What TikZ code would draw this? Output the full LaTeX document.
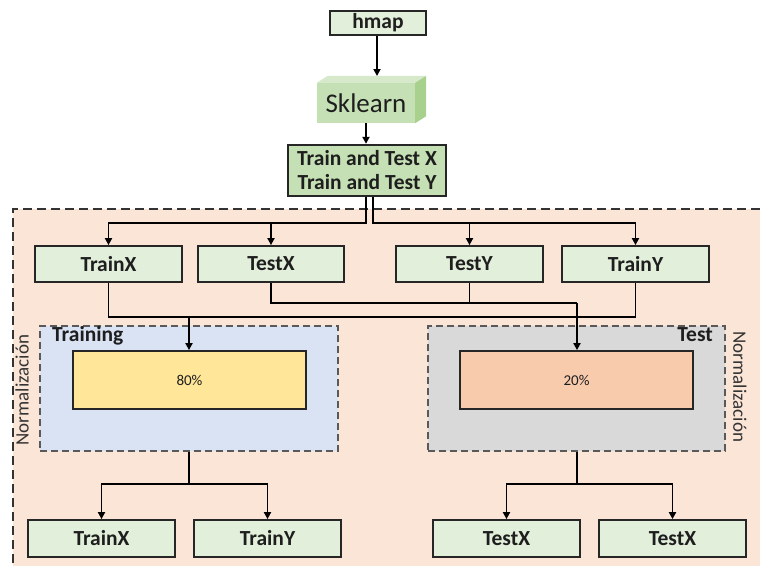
\documentclass[tikz,border=0pt]{standalone}
\usepackage{fontspec}
\setmainfont{Carlito}
\usetikzlibrary{arrows.meta,calc}

\definecolor{boxgreen}{HTML}{E2EFDA}
\definecolor{midgreen}{HTML}{C5E0B4}
\definecolor{topgreen}{HTML}{D6E9CA}
\definecolor{sidegreen}{HTML}{A9D18E}
\definecolor{peach}{HTML}{FBE5D6}
\definecolor{paleblue}{HTML}{DAE3F3}
\definecolor{palegray}{HTML}{D9D9D9}
\definecolor{gold}{HTML}{FFE699}
\definecolor{salmon}{HTML}{F8CBAD}
\definecolor{ink}{HTML}{1E1E1E}
\definecolor{edge}{HTML}{262626}

\tikzset{
  x=1pt, y=-1pt,
  lbl/.style={font=\fontsize{21.5}{26}\selectfont\bfseries, text=ink},
  databox/.style={draw=edge, line width=1.8pt, fill=boxgreen, inner sep=0pt, lbl},
  splitbox/.style={draw=edge, line width=1.8pt, inner sep=0pt,
    font=\fontsize{15}{18}\selectfont, text=ink},
  groupbox/.style={draw=black!65, line width=1.3pt, dash pattern=on 7pt off 4pt, inner sep=0pt},
  wire/.style={draw=black, line width=1.8pt},
  arr/.style={wire, -{Triangle[length=7pt,width=7pt]}},
  sidelbl/.style={font=\fontsize{19}{22}\selectfont, text=black!80},
}

\begin{document}
\begin{tikzpicture}
\useasboundingbox (0,0) rectangle (760,566);

% outer region (open on the right and bottom)
\fill[peach] (13,209) rectangle (760,566);
\draw[line width=1.6pt, black!80, dash pattern=on 9pt off 5pt]
  (13,563) -- (13,209) -- (760,209);

% top of the pipeline
\node[databox, minimum width=96pt, minimum height=24pt] (hmap) at (378,23) {hmap};

% Sklearn block drawn as a small cuboid
\node[fill=midgreen, minimum width=98pt, minimum height=40pt, inner sep=0pt,
      font=\fontsize{27}{32}\selectfont, text=ink] (sk) at (366,103) {Sklearn};
\fill[topgreen] (sk.north west) -- ++(11,-7) -- ($(sk.north east)+(11,-7)$) -- (sk.north east) -- cycle;
\fill[sidegreen] (sk.north east) -- ++(11,-7) -- ($(sk.south east)+(11,-7)$) -- (sk.south east) -- cycle;
\coordinate (sktop) at (377,76);

\node[databox, fill=midgreen, line width=2.4pt, minimum width=158pt, minimum height=51pt,
      align=center] (tt) at (367,170.5) {Train and Test X\\[-2pt]Train and Test Y};

% first split
\node[databox, minimum width=147pt, minimum height=36pt] (trainx) at (108.5,264) {TrainX};
\node[databox, minimum width=146pt, minimum height=36pt] (testx)  at (271,264)   {TestX};
\node[databox, minimum width=147pt, minimum height=36pt] (testy)  at (469.5,264) {TestY};
\node[databox, minimum width=147pt, minimum height=36pt] (trainy) at (635.5,264) {TrainY};

% training and test groups
\node[groupbox, fill=paleblue, minimum width=298pt, minimum height=125pt] (training) at (189,388.5) {};
\node[groupbox, fill=palegray, minimum width=297pt, minimum height=125pt] (test) at (576.5,388.5) {};
\node[lbl, anchor=base west, inner sep=0pt] (traininglbl) at (52,341) {Training};
\node[lbl, anchor=base east, inner sep=0pt] (testlbl) at (713,341) {Test};
\node[splitbox, fill=gold, minimum width=233pt, minimum height=58pt] (p80) at (189.5,380) {80\%};
\node[splitbox, fill=salmon, minimum width=233pt, minimum height=58pt] (p20) at (576.5,380) {20\%};

\node[sidelbl, rotate=90] (normL) at (22,390) {Normalización};
\node[sidelbl, rotate=-90] (normR) at (740,387) {Normalización};

% final outputs
\node[databox, minimum width=147pt, minimum height=37pt] (trainx2) at (101.5,538.5) {TrainX};
\node[databox, minimum width=147pt, minimum height=37pt] (trainy2) at (267.5,538.5) {TrainY};
\node[databox, minimum width=147pt, minimum height=37pt] (testx2)  at (506.5,538.5) {TestX};
\node[databox, minimum width=147pt, minimum height=37pt] (testx3)  at (672.5,538.5) {TestX};

% connectors: top
\draw[arr] (hmap.south -| sktop) -- (sktop);
\draw[arr] (sk.south) -- (tt.north -| sk.south);

% connectors: dataset split into four parts
\coordinate (busA) at (366,223);
\coordinate (busB) at (373,223);
\draw[arr] (tt.south -| busA) -- (busA) -| (trainx.north);
\draw[arr] (busA -| testx.north) -- (testx.north);
\draw[arr] (tt.south -| busB) -- (busB) -| (trainy.north);
\draw[arr] (busB -| testy.north) -- (testy.north);

% connectors: parts into training and test groups
\coordinate (busC) at (189,317);
\coordinate (busD) at (577,303);
\draw[wire] (trainx.south) |- (busC -| trainy.south) -- (trainy.south);
\draw[arr] (busC) -- (p80.north -| busC);
\draw[wire] (testx.south) |- (busD);
\draw[wire] (testy.south) -- (testy.south |- busD);
\draw[arr] (busD) -- (p20.north -| busD);

% connectors: groups into final outputs
\coordinate (busE) at (189,484);
\coordinate (busF) at (577,484);
\draw[wire] (training.south -| busE) -- (busE);
\draw[arr] (busE) -| (trainx2.north);
\draw[arr] (busE) -| (trainy2.north);
\draw[wire] (test.south -| busF) -- (busF);
\draw[arr] (busF) -| (testx2.north);
\draw[arr] (busF) -| (testx3.north);
\end{tikzpicture}
\end{document}
